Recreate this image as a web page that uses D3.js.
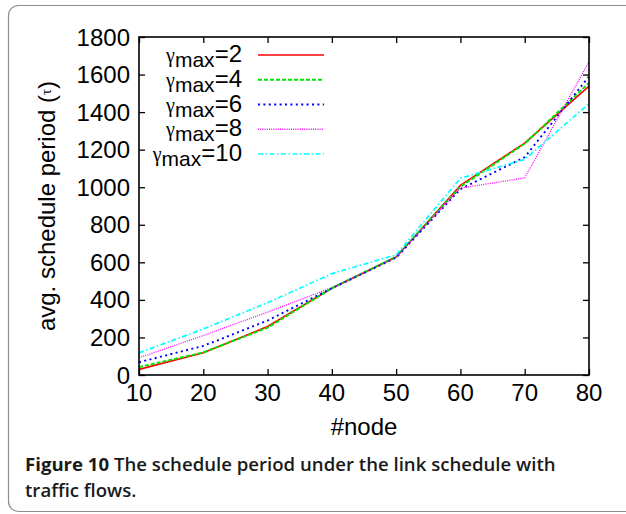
<!doctype html>
<html lang="en">
<head>
 <meta charset="utf-8">
 <script src="https://cdn.jsdelivr.net/npm/d3@7"></script>
 <title>Figure 10</title>
 <style>
  body { margin: 0; background: #fff; }
  text { font-family: "Liberation Sans", Arial, sans-serif; fill: #000; }
  .tick-label { font-size: 24px; }
  .caption { font-family: "Open Sans", "Noto Sans", sans-serif; font-size: 18.6px; font-weight: 600; fill: #1a1a1a; }
 </style>
</head>
<body>
<div id="chart"></div>

<script>
    // data
    var nodes = [10, 20, 30, 40, 50, 60, 70, 80];
    var gamma2  = [30, 118, 258, 462, 628, 1010, 1235, 1538];
    var gamma4  = [42, 120, 252, 462, 630, 1003, 1232, 1556];
    var gamma6  = [68, 155, 290, 462, 625, 990, 1160, 1590];
    var gamma8  = [92, 210, 335, 465, 628, 995, 1050, 1668];
    var gamma10 = [118, 245, 385, 540, 640, 1048, 1148, 1445];
    var legend_labels = ["2", "4", "6", "8", "10"];
    var x_ticks = [10, 20, 30, 40, 50, 60, 70, 80];
    var y_ticks = [0, 200, 400, 600, 800, 1000, 1200, 1400, 1600, 1800];

    var series = [
        {name: legend_labels[0], values: gamma2,  color: "#ff0000", dash: null,          width: 1.6},
        {name: legend_labels[1], values: gamma4,  color: "#00e600", dash: "4,2",         width: 2},
        {name: legend_labels[2], values: gamma6,  color: "#0000ff", dash: "2,3.4",       width: 1.9},
        {name: legend_labels[3], values: gamma8,  color: "#ff00ff", dash: "1,1.2",       width: 1.3},
        {name: legend_labels[4], values: gamma10, color: "#00ffff", dash: "5,2.5,1.5,2.5", width: 1.7}
    ];

    var width = 626, height = 514;
    var pleft = 139, pright = 589, ptop = 37, pbottom = 375;

    var svg = d3.select("#chart").append("svg")
        .attr("width", width)
        .attr("height", height);

    // rounded frame, cut off on the right like the page scan
    svg.append("rect")
        .attr("x", 8.5).attr("y", 5.5)
        .attr("width", 660).attr("height", 506)
        .attr("rx", 10).attr("ry", 10)
        .attr("fill", "none")
        .attr("stroke", "#8c8c8c")
        .attr("stroke-width", 1.2);

    var x = d3.scaleLinear().domain([10, 80]).range([pleft, pright]);
    var y = d3.scaleLinear().domain([0, 1800]).range([pbottom, ptop]);

    // ticks on all four sides, pointing inwards
    var tlen = 6;
    svg.append("g").attr("transform", "translate(0," + pbottom + ")")
        .call(d3.axisBottom(x).tickValues(x_ticks).tickSize(-tlen).tickFormat(""));
    svg.append("g").attr("transform", "translate(0," + ptop + ")")
        .call(d3.axisTop(x).tickValues(x_ticks).tickSize(-tlen).tickFormat(""));
    svg.append("g").attr("transform", "translate(" + pleft + ",0)")
        .call(d3.axisLeft(y).tickValues(y_ticks).tickSize(-tlen).tickFormat(""));
    svg.append("g").attr("transform", "translate(" + pright + ",0)")
        .call(d3.axisRight(y).tickValues(y_ticks).tickSize(-tlen).tickFormat(""));
    svg.selectAll(".domain").remove();
    svg.selectAll(".tick line").attr("stroke", "#000").attr("stroke-width", 1.3);

    // tick labels
    svg.selectAll(".xlab").data(x_ticks).enter().append("text")
        .attr("class", "tick-label")
        .attr("x", function (d) { return x(d); })
        .attr("y", pbottom + 26)
        .attr("text-anchor", "middle")
        .text(function (d) { return d; });

    svg.selectAll(".ylab").data(y_ticks).enter().append("text")
        .attr("class", "tick-label")
        .attr("x", pleft - 9)
        .attr("y", function (d) { return y(d) + 8.5; })
        .attr("text-anchor", "end")
        .text(function (d) { return d; });

    // lines
    var line = d3.line()
        .x(function (d, i) { return x(nodes[i]); })
        .y(function (d) { return y(d); });

    svg.selectAll(".series").data(series).enter().append("path")
        .attr("class", "series")
        .attr("fill", "none")
        .attr("stroke", function (d) { return d.color; })
        .attr("stroke-width", function (d) { return d.width; })
        .attr("stroke-dasharray", function (d) { return d.dash; })
        .attr("d", function (d) { return line(d.values); });

    // border box
    svg.append("rect")
        .attr("x", pleft).attr("y", ptop)
        .attr("width", pright - pleft).attr("height", pbottom - ptop)
        .attr("fill", "none")
        .attr("stroke", "#000")
        .attr("stroke-width", 1.6);

    // legend
    var row = 24.75;
    var leg = svg.selectAll(".leg").data(series).enter().append("g")
        .attr("class", "leg")
        .attr("transform", function (d, i) { return "translate(0," + (55 + i * row) + ")"; });

    leg.append("line")
        .attr("x1", 258).attr("x2", 324)
        .attr("stroke", function (d) { return d.color; })
        .attr("stroke-width", function (d) { return d.width; })
        .attr("stroke-dasharray", function (d) { return d.dash; });

    var lt = leg.append("text")
        .attr("x", 242)
        .attr("y", 7)
        .attr("text-anchor", "end")
        .style("font-size", "24px");
    lt.append("tspan").style("font-family", "'Liberation Serif', serif").style("font-size", "20px").text("γ");
    lt.append("tspan").attr("dy", 5).style("font-size", "21px").text("max");
    lt.append("tspan").attr("dy", -5).text(function (d) { return "=" + d.name; });

    // axis titles
    svg.append("text")
        .attr("x", (pleft + pright) / 2)
        .attr("y", 435)
        .attr("text-anchor", "middle")
        .style("font-size", "24px")
        .text("#node");

    var yt = svg.append("text")
        .attr("transform", "translate(55," + 206 + ") rotate(-90)")
        .attr("text-anchor", "middle")
        .style("font-size", "24px");
    yt.append("tspan").text("avg. schedule period (");
    yt.append("tspan").style("font-family", "'Liberation Serif', serif").style("font-size", "15px").attr("dy", -4).text("τ");
    yt.append("tspan").attr("dy", 4).text(")");

    // caption
    var cap = svg.append("text").attr("class", "caption").attr("x", 25).attr("y", 471);
    cap.append("tspan").style("font-weight", 700).text("Figure 10 ");
    cap.append("tspan").text("The schedule period under the link schedule with");
    svg.append("text").attr("class", "caption").attr("x", 25).attr("y", 497)
        .text("traffic flows.");
</script>
</body>
</html>
